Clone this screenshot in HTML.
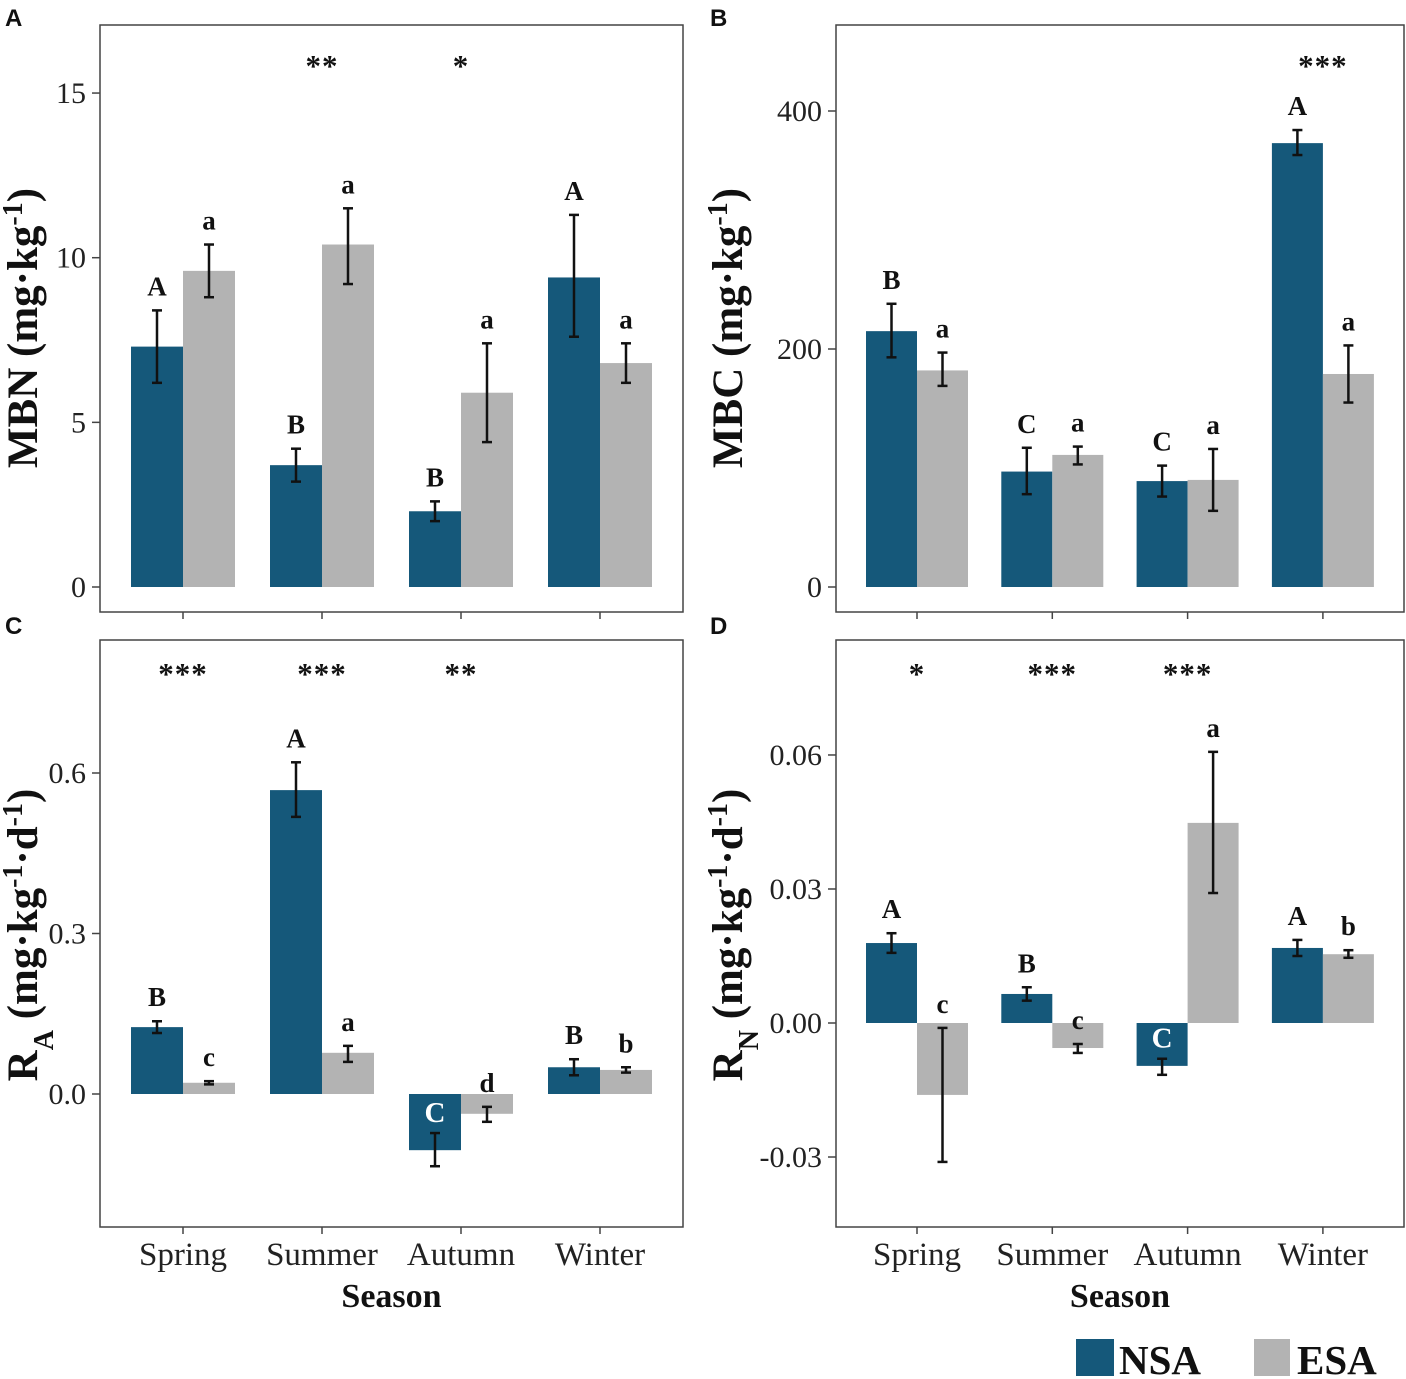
<!DOCTYPE html>
<html><head><meta charset="utf-8">
<style>
html,body{margin:0;padding:0;background:#fff;}
svg{display:block;}
text{font-family:"Liberation Serif",serif;}
.sans{font-family:"Liberation Sans",sans-serif;}
</style></head>
<body>
<svg id="chart" width="1406" height="1379" viewBox="0 0 1406 1379" xmlns="http://www.w3.org/2000/svg"></svg>
<script>
const seasons=["Spring","Summer","Autumn","Winter"];
// Panel A: MBN
const aNSA=[7.3,3.7,2.3,9.4], aNSAlo=[6.2,3.2,2.0,7.6], aNSAhi=[8.4,4.2,2.6,11.3];
const aESA=[9.6,10.4,5.9,6.8], aESAlo=[8.8,9.2,4.4,6.2], aESAhi=[10.4,11.5,7.4,7.4];
const aLetN=["A","B","B","A"], aLetE=["a","a","a","a"], aStars=["","**","*",""];
const aTicks=[0,5,10,15];
// Panel B: MBC
const bNSA=[215,97,89,373], bNSAlo=[193,78,76,363], bNSAhi=[238,117,102,384];
const bESA=[182,111,90,179], bESAlo=[169,103,64,155], bESAhi=[197,118,116,203];
const bLetN=["B","C","C","A"], bLetE=["a","a","a","a"], bStars=["","","","***"];
const bTicks=[0,200,400];
// Panel C: RA
const cNSA=[0.125,0.568,-0.105,0.05], cNSAlo=[0.114,0.518,-0.135,0.035], cNSAhi=[0.136,0.62,-0.073,0.065];
const cESA=[0.021,0.077,-0.037,0.045], cESAlo=[0.018,0.06,-0.052,0.04], cESAhi=[0.024,0.09,-0.024,0.05];
const cLetN=["B","A","C","B"], cLetE=["c","a","d","b"], cStars=["***","***","**",""];
const cTicks=[0,0.3,0.6], cTickLab=["0.0","0.3","0.6"];
// Panel D: RN
const dNSA=[0.0179,0.0065,-0.0096,0.0168], dNSAlo=[0.0157,0.005,-0.0116,0.015], dNSAhi=[0.0201,0.008,-0.008,0.0186];
const dESA=[-0.0161,-0.0056,0.0448,0.0154], dESAlo=[-0.0311,-0.0067,0.0291,0.0146], dESAhi=[-0.0011,-0.0047,0.0607,0.0163];
const dLetN=["A","B","C","A"], dLetE=["c","c","a","b"], dStars=["*","***","***",""];
const dTicks=[-0.03,0,0.03,0.06], dTickLab=["-0.03","0.00","0.03","0.06"];

const NS="http://www.w3.org/2000/svg", svg=document.getElementById("chart");
const NSAc="#15587a", ESAc="#b3b3b3";
function mk(tag,attrs,parent,txt){const e=document.createElementNS(NS,tag);for(const k in attrs)e.setAttribute(k,attrs[k]);if(txt!==undefined)e.textContent=txt;(parent||svg).appendChild(e);return e;}

function panel(p){
  const g=mk("g",{});
  
  
  const y=v=>p.y0-(v)*p.k;
  const box=mk("rect",{x:p.x1,y:p.top,width:p.x2-p.x1,height:p.bot-p.top,fill:"none",stroke:"#444","stroke-width":1.5},g);
  
  
  p.ticks.forEach((t,i)=>{
    mk("line",{x1:p.x1-8,x2:p.x1,y1:y(t),y2:y(t),stroke:"#444","stroke-width":1.5},g);
    const tl=mk("text",{x:p.x1-14,y:y(t)+10,"font-size":30,"text-anchor":"end",fill:"#222"},g,p.tickLab?p.tickLab[i]:String(t));
    
    
  });
  seasons.forEach((s,i)=>{
    const cx=p.c0+i*p.sp;
    mk("line",{x1:cx,x2:cx,y1:p.bot,y2:p.bot+7,stroke:"#444","stroke-width":1.5},g);
    if(p.xlab){const xl=mk("text",{x:cx,y:p.bot+38,"font-size":33,"text-anchor":"middle",fill:"#222"},g,s);
      
      }
    [[p.N,p.Nlo,p.Nhi,NSAc,cx-p.w,p.LN,"nsa"],[p.E,p.Elo,p.Ehi,ESAc,cx,p.LE,"esa"]].forEach(([v,lo,hi,col,bx,L,nm])=>{
      const y1=Math.min(y(0),y(v[i])), h=Math.abs(y(v[i])-y(0));
      const b=mk("rect",{x:bx,y:y1,width:p.w,height:h,fill:col},g);
      
      
      const ex=bx+p.w/2;
      mk("line",{x1:ex,x2:ex,y1:y(hi[i]),y2:y(lo[i]),stroke:"#111","stroke-width":2.5},g);
      mk("line",{x1:ex-5,x2:ex+5,y1:y(hi[i]),y2:y(hi[i]),stroke:"#111","stroke-width":2.5},g);
      mk("line",{x1:ex-5,x2:ex+5,y1:y(lo[i]),y2:y(lo[i]),stroke:"#111","stroke-width":2.5},g);
      const white=(nm==="nsa"&&v[i]<0);
      const ly=white?y(hi[i])-11:y(hi[i])-15;
      const lt=mk("text",{x:ex,y:ly,"font-size":white?29:27,"font-weight":"bold","text-anchor":"middle",fill:white?"#fff":"#111"},g,L[i]);
      
      
    });
    if(p.stars[i]){const st=mk("text",{x:cx,y:p.top+p.so,"font-size":31,"font-weight":"bold","text-anchor":"middle",fill:"#111","letter-spacing":"1"},g,p.stars[i]);
      
      }
  });
  const yt=mk("text",{transform:`translate(${p.yx},${p.ycy}) rotate(-90)`,"font-size":43,"font-weight":"bold","text-anchor":"middle",fill:"#111"},g);
  
  
  p.ytitle.forEach(([t,sh,sz])=>{mk("tspan",{"baseline-shift":sh||"baseline","font-size":sz||43},yt,t);});
  const pl=mk("text",{x:p.lx,y:p.ly,"font-size":24,"font-weight":"bold",class:"sans",fill:"#111"},g,p.letter);
  
  
  if(p.xlab){const xt=mk("text",{x:(p.x1+p.x2)/2,y:p.bot+80,"font-size":34,"font-weight":"bold","text-anchor":"middle",fill:"#111"},g,"Season");
    
    }
}
panel({name:"panel-a-mbn",letter:"A",lx:5,ly:26,x1:100,x2:683,top:25,bot:612,y0:587,k:32.93,c0:183,sp:139,w:52,so:51,
  N:aNSA,Nlo:aNSAlo,Nhi:aNSAhi,E:aESA,Elo:aESAlo,Ehi:aESAhi,LN:aLetN,LE:aLetE,stars:aStars,ticks:aTicks,
  yx:37,ycy:328,ytitle:[["MBN (mg·kg"],["-1","super",28],[")"]]});
panel({name:"panel-b-mbc",letter:"B",lx:710,ly:26,x1:836,x2:1404,top:25,bot:612,y0:587,k:1.19,c0:917,sp:135.3,w:51,so:51,
  N:bNSA,Nlo:bNSAlo,Nhi:bNSAhi,E:bESA,Elo:bESAlo,Ehi:bESAhi,LN:bLetN,LE:bLetE,stars:bStars,ticks:bTicks,
  yx:742,ycy:328,ytitle:[["MBC (mg·kg"],["-1","super",28],[")"]]});
panel({name:"panel-c-ra",letter:"C",lx:5,ly:634,x1:100,x2:683,top:640,bot:1227,y0:1094,k:535,c0:183,sp:139,w:52,xlab:true,so:44,
  N:cNSA,Nlo:cNSAlo,Nhi:cNSAhi,E:cESA,Elo:cESAlo,Ehi:cESAhi,LN:cLetN,LE:cLetE,stars:cStars,ticks:cTicks,tickLab:cTickLab,
  yx:37,ycy:935,ytitle:[["R"],["A","sub",28],[" (mg·kg"],["-1","super",28],["·d"],["-1","super",28],[")"]]});
panel({name:"panel-d-rn",letter:"D",lx:710,ly:634,x1:836,x2:1404,top:640,bot:1227,y0:1023,k:4467,c0:917,sp:135.3,w:51,xlab:true,so:44,
  N:dNSA,Nlo:dNSAlo,Nhi:dNSAhi,E:dESA,Elo:dESAlo,Ehi:dESAhi,LN:dLetN,LE:dLetE,stars:dStars,ticks:dTicks,tickLab:dTickLab,
  yx:742,ycy:935,ytitle:[["R"],["N","sub",28],[" (mg·kg"],["-1","super",28],["·d"],["-1","super",28],[")"]]});
// legend
const lg=mk("g",{});


const l1=mk("rect",{x:1076,y:1339,width:38,height:37,fill:NSAc},lg);


const t1=mk("text",{x:1119,y:1374,"font-size":41,"font-weight":"bold",fill:"#111"},lg,"NSA");


const l2=mk("rect",{x:1254,y:1339,width:36,height:37,fill:ESAc},lg);


const t2=mk("text",{x:1297,y:1374,"font-size":41,"font-weight":"bold",fill:"#111"},lg,"ESA");


</script>
</body></html>
